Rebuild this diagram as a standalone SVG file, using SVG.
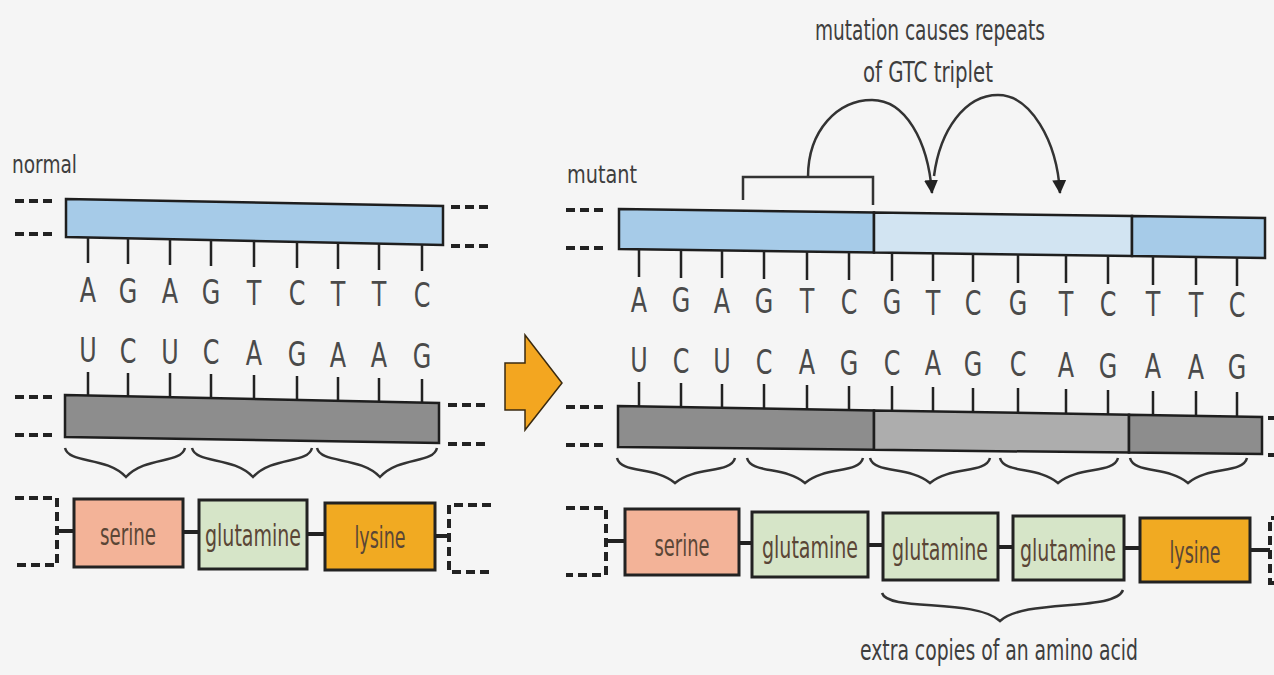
<svg xmlns="http://www.w3.org/2000/svg" width="1274" height="675" viewBox="0 0 1274 675">
<defs>
<style>
.t{font-family:"Liberation Sans Narrow","DejaVu Sans Condensed","Roboto Condensed","Noto Sans",sans-serif;font-stretch:condensed;fill:#3e3e3e}
.b text{font-size:34px;text-anchor:middle;fill:#4a4a4a}
.lab{font-size:25px}
.big{font-size:28px}
.aa{font-size:30px;text-anchor:middle;fill:#5a4636}
.edge{stroke:#1e1e1e;stroke-width:2.5}
.blue{fill:#a6cbe8}
.lblue{fill:#d2e4f2}
.gray{fill:#8d8d8d}
.lgray{fill:#adadad}
.tick{stroke:#222;stroke-width:2.5;fill:none}
.dash{stroke:#222;stroke-width:4;stroke-dasharray:9 5;fill:none}
.br{stroke:#333;stroke-width:2.5;fill:none}
.box{stroke:#222;stroke-width:3}
.ser{fill:#f3b398}
.gln{fill:#d6e5c8}
.lys{fill:#f1aa22}
.con{stroke:#222;stroke-width:4}
</style>
<marker id="ah" viewBox="0 0 14 14" refX="13" refY="7" markerWidth="14" markerHeight="14" markerUnits="userSpaceOnUse" orient="auto">
<path d="M0,0 L14,7 L0,14 Z" fill="#222"/>
</marker>
</defs>
<rect x="0" y="0" width="1274" height="675" fill="#f5f5f5"/>

<g id="labels">
<text class="t lab" x="12" y="173" textLength="65" lengthAdjust="spacingAndGlyphs">normal</text>
<text class="t lab" x="567" y="183" textLength="70" lengthAdjust="spacingAndGlyphs">mutant</text>
<text class="t big" x="815" y="40" textLength="230" lengthAdjust="spacingAndGlyphs">mutation causes repeats</text>
<text class="t big" x="863" y="82" textLength="130" lengthAdjust="spacingAndGlyphs">of GTC triplet</text>
<text class="t big" x="860" y="660" textLength="278" lengthAdjust="spacingAndGlyphs">extra copies of an amino acid</text>
</g>

<g id="normal-dna">
<polygon class="blue edge" points="66,199 443,206 443,245 66,237"/>
<path class="tick" d="M88,237 V263 M128,238 V264 M170,239 V265 M211,240 V266 M254,241 V267 M297,242 V268 M338,243 V269 M379,243 V270 M422,244 V271"/>
<g class="t b">
<text transform="translate(88 302) scale(.78 1)">A</text><text transform="translate(128 302.6) scale(.78 1)">G</text><text transform="translate(170 303.2) scale(.78 1)">A</text><text transform="translate(211 303.8) scale(.78 1)">G</text><text transform="translate(254 304.5) scale(.78 1)">T</text><text transform="translate(297 305.2) scale(.78 1)">C</text><text transform="translate(338 305.8) scale(.78 1)">T</text><text transform="translate(379 306.4) scale(.78 1)">T</text><text transform="translate(422 307) scale(.78 1)">C</text>
</g>
<path class="dash" d="M15,201 H55 M15,234 H55 M451,207 H491 M451,246 H491"/>
</g>

<g id="normal-mrna">
<g class="t b">
<text transform="translate(88 362) scale(.78 1)">U</text><text transform="translate(128 362.7) scale(.78 1)">C</text><text transform="translate(170 363.5) scale(.78 1)">U</text><text transform="translate(211 364.2) scale(.78 1)">C</text><text transform="translate(254 365) scale(.78 1)">A</text><text transform="translate(297 365.7) scale(.78 1)">G</text><text transform="translate(338 366.5) scale(.78 1)">A</text><text transform="translate(379 367.2) scale(.78 1)">A</text><text transform="translate(422 368) scale(.78 1)">G</text>
</g>
<path class="tick" d="M88,372 V396 M128,373 V397 M170,373 V398 M211,374 V399 M254,375 V400 M297,376 V401 M338,377 V402 M379,378 V403 M422,379 V404"/>
<polygon class="gray edge" points="65,395 439,403 439,443 65,437"/>
<path class="dash" d="M15,397 H55 M15,435 H55 M448,405 H490 M448,444 H490"/>
</g>

<g id="normal-braces" class="br">
<path d="M65,448 C69,464 106,456 126,477 C146,456 181,464 185,448"/>
<path d="M192,448 C196,464 233,456 253,477 C273,456 308,464 312,448"/>
<path d="M317,448 C321,464 360,456 380,477 C400,456 433,464 437,448"/>
</g>

<g id="normal-protein">
<path class="dash" d="M15,498 H57 V565 H15"/>
<path class="dash" d="M491,505 H449 V572 H491"/>
<path class="con" d="M58,531 H74 M183,532 H199 M307,534 H325 M435,536 H449"/>
<g id="n-serine"><rect class="box ser" x="74" y="499" width="109" height="68"/><text class="t aa" x="128" y="545" textLength="56" lengthAdjust="spacingAndGlyphs">serine</text></g>
<g id="n-glutamine"><rect class="box gln" x="199" y="500" width="108" height="69"/><text class="t aa" x="253" y="546" textLength="96" lengthAdjust="spacingAndGlyphs">glutamine</text></g>
<g id="n-lysine"><rect class="box lys" x="325" y="503" width="110" height="67"/><text class="t aa" x="380" y="548" textLength="51" lengthAdjust="spacingAndGlyphs">lysine</text></g>
</g>

<g id="big-arrow">
<polygon points="505,363 525,363 525,335 562,383 525,430 525,410 505,410" fill="#f3a620" stroke="#3a2a10" stroke-width="1.5"/>
</g>

<g id="mutant-dna">
<polygon class="blue edge" points="619,209 874,212.6 874,252.6 619,249"/>
<polygon class="lblue edge" points="874,212.6 1132,216.1 1132,256.1 874,252.6"/>
<polygon class="blue edge" points="1132,216.1 1265,218 1265,258 1132,256.1"/>
<path class="tick" d="M639,249 V277 M681,250 V278 M722,250 V278 M764,251 V279 M807,251 V280 M849,252 V280 M892,253 V281 M933,253 V281 M973,254 V282 M1018,254 V283 M1066,255 V283 M1108,256 V284 M1153,256 V285 M1196,257 V285 M1237,257 V286"/>
<g class="t b">
<text transform="translate(639 312) scale(.78 1)">A</text><text transform="translate(681 312.4) scale(.78 1)">G</text><text transform="translate(722 312.7) scale(.78 1)">A</text><text transform="translate(764 313) scale(.78 1)">G</text><text transform="translate(807 313.4) scale(.78 1)">T</text><text transform="translate(849 313.8) scale(.78 1)">C</text><text transform="translate(892 314.1) scale(.78 1)">G</text><text transform="translate(933 314.5) scale(.78 1)">T</text><text transform="translate(973 314.8) scale(.78 1)">C</text><text transform="translate(1018 315.2) scale(.78 1)">G</text><text transform="translate(1066 315.6) scale(.78 1)">T</text><text transform="translate(1108 316) scale(.78 1)">C</text><text transform="translate(1153 316.3) scale(.78 1)">T</text><text transform="translate(1196 316.7) scale(.78 1)">T</text><text transform="translate(1237 317) scale(.78 1)">C</text>
</g>
<path class="dash" d="M566,210 H604 M566,248 H604"/>
</g>

<g id="mutant-mrna">
<g class="t b">
<text transform="translate(639 372) scale(.78 1)">U</text><text transform="translate(681 372.5) scale(.78 1)">C</text><text transform="translate(722 373) scale(.78 1)">U</text><text transform="translate(764 373.5) scale(.78 1)">C</text><text transform="translate(807 374) scale(.78 1)">A</text><text transform="translate(849 374.5) scale(.78 1)">G</text><text transform="translate(892 375) scale(.78 1)">C</text><text transform="translate(933 375.4) scale(.78 1)">A</text><text transform="translate(973 375.9) scale(.78 1)">G</text><text transform="translate(1018 376.4) scale(.78 1)">C</text><text transform="translate(1066 377) scale(.78 1)">A</text><text transform="translate(1108 377.5) scale(.78 1)">G</text><text transform="translate(1153 378) scale(.78 1)">A</text><text transform="translate(1196 378.5) scale(.78 1)">A</text><text transform="translate(1237 379) scale(.78 1)">G</text>
</g>
<path class="tick" d="M639,382 V407 M681,383 V408 M722,384 V408 M764,384 V409 M807,385 V410 M849,386 V410 M892,386 V411 M933,387 V412 M973,388 V413 M1018,388 V413 M1066,389 V414 M1108,390 V415 M1153,391 V416 M1196,391 V416 M1237,392 V417"/>
<polygon class="gray edge" points="618,406 874,410.4 874,449.8 618,447"/>
<polygon class="lgray edge" points="874,410.4 1129,414.7 1129,452.6 874,449.8"/>
<polygon class="gray edge" points="1129,414.7 1262,417 1262,454 1129,452.6"/>
<path class="dash" d="M566,407 H604 M566,445 H604 M1268,418 H1280 M1268,455 H1280"/>
</g>

<g id="mutant-braces" class="br">
<path d="M617,458 C621,474 655,466 675,483 C695,466 731,474 735,458"/>
<path d="M747,458 C751,474 785,466 805,483 C825,466 859,474 863,458"/>
<path d="M870,458 C874,474 910,466 930,483 C950,466 986,474 990,458"/>
<path d="M1000,458 C1004,474 1038,466 1058,483 C1078,466 1114,474 1118,458"/>
<path d="M1130,458 C1134,474 1168,466 1188,483 C1208,466 1243,474 1247,458"/>
</g>

<g id="mutant-protein">
<path class="dash" d="M566,508 H606 V575 H566"/>
<path class="dash" d="M1280,518 H1270 V583 H1280"/>
<path class="con" d="M606,541 H625 M739,543 H752 M868,545 H883 M998,547 H1013 M1124,548 H1140 M1250,550 H1270"/>
<g id="m-serine"><rect class="box ser" x="625" y="509" width="114" height="66"/><text class="t aa" x="682" y="556" textLength="55" lengthAdjust="spacingAndGlyphs">serine</text></g>
<g id="m-glutamine1"><rect class="box gln" x="752" y="512" width="116" height="65"/><text class="t aa" x="810" y="558" textLength="96" lengthAdjust="spacingAndGlyphs">glutamine</text></g>
<g id="m-glutamine2"><rect class="box gln" x="883" y="513" width="115" height="67"/><text class="t aa" x="940" y="560" textLength="96" lengthAdjust="spacingAndGlyphs">glutamine</text></g>
<g id="m-glutamine3"><rect class="box gln" x="1013" y="516" width="111" height="64"/><text class="t aa" x="1068" y="561" textLength="96" lengthAdjust="spacingAndGlyphs">glutamine</text></g>
<g id="m-lysine"><rect class="box lys" x="1140" y="518" width="110" height="64"/><text class="t aa" x="1195" y="563" textLength="51" lengthAdjust="spacingAndGlyphs">lysine</text></g>
</g>

<g id="extra-brace" class="br">
<path d="M882,593 C888,612 975,598 1000,621 C1025,598 1115,612 1123,590"/>
</g>

<g id="connectors">
<path class="br" d="M743,200 V177 H873 V205"/>
<path class="br" d="M808,177 C808,130 838,100 872,100 C905,100 928,140 932,193" marker-end="url(#ah)"/>
<path class="br" d="M934,176 C940,130 965,95 998,95 C1030,95 1057,140 1060,193" marker-end="url(#ah)"/>
</g>
</svg>
